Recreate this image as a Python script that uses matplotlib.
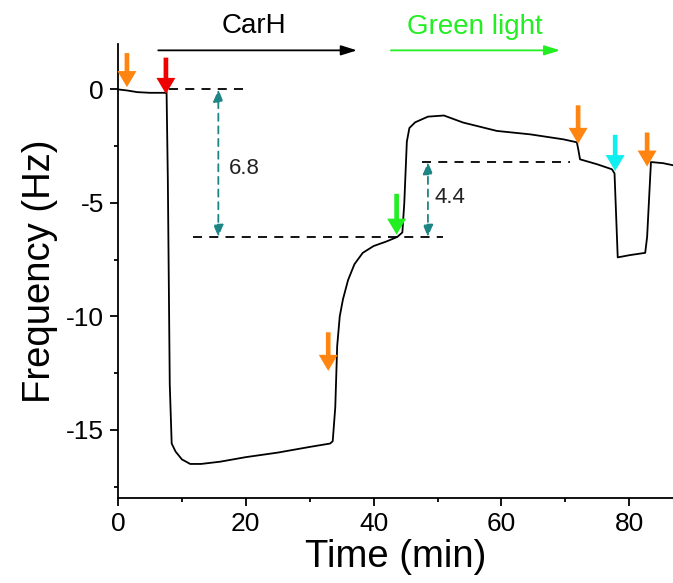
import matplotlib
matplotlib.use("Agg")
import matplotlib.pyplot as plt
from matplotlib.ticker import MultipleLocator

plt.rcParams['font.family'] = ['Liberation Sans', 'DejaVu Sans']
plt.rcParams['axes.unicode_minus'] = False

# trace (time in min, frequency in Hz)
time = [0, 1.5, 3, 5, 7.4, 7.6, 7.8, 8.1, 8.4, 9.0, 10, 11.3, 13, 16, 20, 25, 30,
        33.2, 33.6, 34.0, 34.3, 34.7, 35.2, 36.0, 37.0, 38.3, 40, 42, 43.7,
        44.5, 44.8, 45.2, 45.6, 46.5, 48.5, 51, 54, 59.3, 64.5, 69.7, 71.8,
        72.0, 72.3, 75, 77.3, 77.7, 78.2, 80.1, 82.5, 82.8, 83.4, 85.3, 87]
freq = [0, -0.05, -0.12, -0.15, -0.15, -0.1, -4, -13, -15.6, -15.95, -16.3, -16.5, -16.5,
        -16.4, -16.2, -16.0, -15.75, -15.6, -15.5, -14, -11.3, -10, -9.25, -8.4, -7.7,
        -7.2, -6.9, -6.7, -6.5, -6.3, -5, -2.3, -1.7, -1.45, -1.2, -1.15, -1.46, -1.83,
        -1.98, -2.2, -2.33, -2.6, -3.08, -3.3, -3.52, -3.7, -7.4, -7.3, -7.2, -6.5,
        -3.2, -3.25, -3.35]

# event arrows: time, tail, tip, colour
arrow_t = [1.4, 7.5, 32.9, 43.6, 72.0, 77.8, 82.8]
arrow_tail = [1.6, 1.4, -10.7, -4.6, -0.7, -2.0, -1.9]
arrow_tip = [0.1, -0.2, -12.4, -6.4, -2.4, -3.6, -3.4]
arrow_col = ['#FF8410', '#EE0000', '#FF8410', '#22EE22', '#FF8410', '#11EEF0', '#FF8410']

# reference levels and differences
level_y = [0, -6.5, -3.2]
level_x0 = [8.0, 11.7, 47.6]
level_x1 = [20.2, 50.9, 70.7]
diff_t = [15.7, 48.5]
diff_lo = [-6.5, -6.5]
diff_hi = [0, -3.2]
diff_txt = ['6.8', '4.4']
diff_txt_t = [17.4, 49.6]
diff_txt_y = [-3.5, -4.75]

teal = '#1E8585'

fig = plt.figure(figsize=(6.73, 5.83), dpi=100)
ax = fig.add_axes([118 / 673, 1 - 498 / 583, 555 / 673, 454 / 583])

ax.plot(time, freq, color='black', lw=1.3)

for y, a, b in zip(level_y, level_x0, level_x1):
    ax.plot([a, b], [y, y], color='black', lw=1.3, ls=(0, (5, 4)))

for t, lo, hi in zip(diff_t, diff_lo, diff_hi):
    ax.annotate('', xy=(t, hi), xytext=(t, lo),
                arrowprops=dict(arrowstyle='<|-|>,head_length=0.6,head_width=0.25',
                                color=teal, lw=1.3, ls=(0, (4, 3)),
                                shrinkA=0, shrinkB=0, mutation_scale=12))
for t, y, s in zip(diff_txt_t, diff_txt_y, diff_txt):
    ax.text(t, y, s, fontsize=16, ha='left', va='center', color='#222222')

for t, a, b, c in zip(arrow_t, arrow_tail, arrow_tip, arrow_col):
    ax.annotate('', xy=(t, b), xytext=(t, a),
                arrowprops=dict(arrowstyle='simple,head_length=0.55,head_width=0.65,tail_width=0.16',
                                color=c, lw=0, shrinkA=0, shrinkB=0, mutation_scale=21),
                annotation_clip=False)

# treatment bars above the trace
ax.annotate('', xy=(37.4, 1.72), xytext=(6.3, 1.72),
            arrowprops=dict(arrowstyle='-|>,head_length=0.8,head_width=0.25',
                            color='black', lw=1.3, shrinkA=0, shrinkB=0, mutation_scale=12),
            annotation_clip=False)
ax.text(21.3, 2.78, 'CarH', fontsize=20, ha='center', va='center', clip_on=False)
ax.annotate('', xy=(69.2, 1.72), xytext=(42.7, 1.72),
            arrowprops=dict(arrowstyle='-|>,head_length=0.8,head_width=0.25',
                            color='#22EE22', lw=1.3, shrinkA=0, shrinkB=0, mutation_scale=12),
            annotation_clip=False)
ax.text(55.9, 2.73, 'Green light', fontsize=20, ha='center', va='center',
        color='#22EE22', clip_on=False)

ax.set_xlim(0, 86.85)
ax.set_ylim(-18, 2)
ax.xaxis.set_major_locator(MultipleLocator(20))
ax.xaxis.set_minor_locator(MultipleLocator(10))
ax.yaxis.set_major_locator(MultipleLocator(5))
ax.yaxis.set_minor_locator(MultipleLocator(2.5))
ax.tick_params(which='major', direction='out', length=6, width=1.3, labelsize=19, pad=4)
ax.tick_params(which='minor', direction='out', length=3, width=1.3)
for side in ['top', 'right']:
    ax.spines[side].set_visible(False)
for side in ['left', 'bottom']:
    ax.spines[side].set_linewidth(1.3)

ax.set_xlabel('Time (min)', fontsize=27.5, labelpad=2)
ax.set_ylabel('Frequency (Hz)', fontsize=27.5, labelpad=6)

fig.savefig('out.png', dpi=100)
